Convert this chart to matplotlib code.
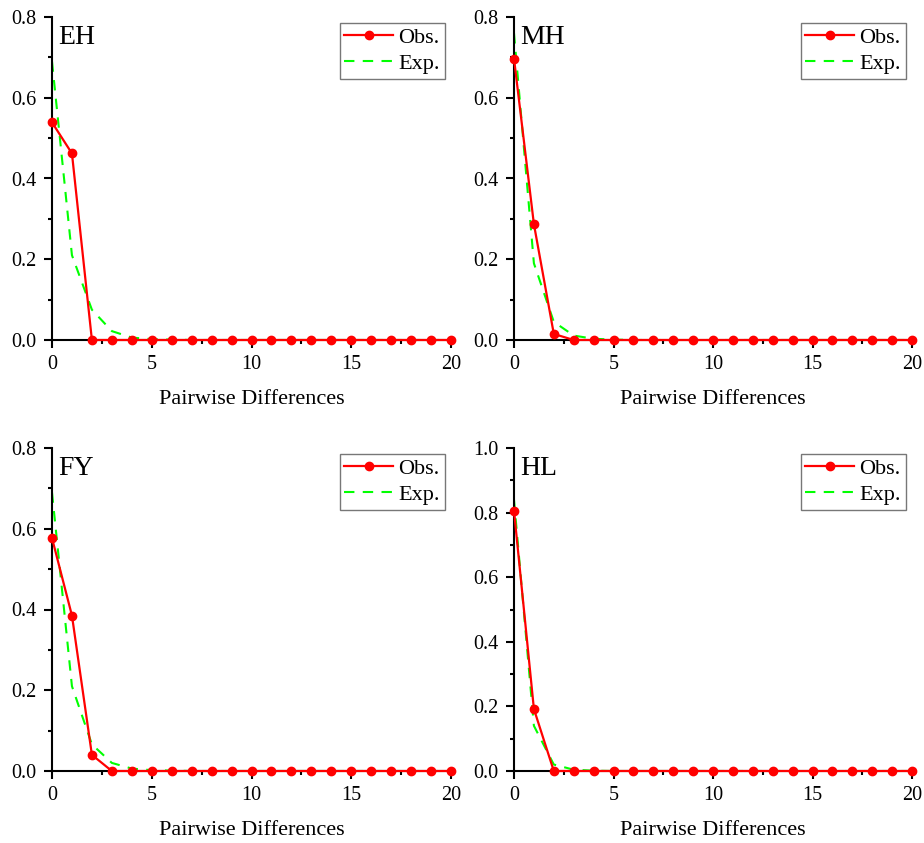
import matplotlib
matplotlib.use("Agg")
import matplotlib.pyplot as plt
from matplotlib.ticker import MultipleLocator

plt.rcParams['font.family'] = ['Liberation Serif', 'DejaVu Serif']

x = list(range(0, 21))

eh_obs = [0.539, 0.462] + [0.0] * 19
eh_exp = [0.69, 0.21, 0.075, 0.022, 0.006, 0.002, 0.001] + [0.0] * 14

mh_obs = [0.697, 0.287, 0.015] + [0.0] * 18
mh_exp = [0.76, 0.19, 0.045, 0.011, 0.003, 0.001] + [0.0] * 15

fy_obs = [0.577, 0.385, 0.04] + [0.0] * 18
fy_exp = [0.69, 0.21, 0.066, 0.02, 0.006, 0.002, 0.001] + [0.0] * 14

hl_obs = [0.806, 0.192] + [0.0] * 19
hl_exp = [0.84, 0.14, 0.02, 0.004, 0.001] + [0.0] * 16

panels = [
    ("EH", eh_obs, eh_exp, 0.8),
    ("MH", mh_obs, mh_exp, 0.8),
    ("FY", fy_obs, fy_exp, 0.8),
    ("HL", hl_obs, hl_exp, 1.0),
]

fig = plt.figure(figsize=(9.24, 8.43), dpi=100)
W, H = 924, 843
boxes = [
    (52, 451, 17, 340),
    (514, 912, 17, 340),
    (52, 451, 448, 771),
    (514, 912, 448, 771),
]

for (name, obs, exp, ymax), (l, r, t, b) in zip(panels, boxes):
    ax = fig.add_axes([l / W, 1 - b / H, (r - l) / W, (b - t) / H])
    ax.plot(x, exp, color='#00FF00', linestyle=(0, (5, 4)), linewidth=1.5,
            label='Exp.', zorder=2)
    ax.plot(x, obs, color='red', marker='o', markersize=6, linewidth=1.6,
            label='Obs.', clip_on=False, zorder=3)
    ax.set_xlim(0, 20)
    ax.set_ylim(0, ymax)
    ax.xaxis.set_major_locator(MultipleLocator(5))
    ax.xaxis.set_minor_locator(MultipleLocator(2.5))
    ax.yaxis.set_major_locator(MultipleLocator(0.2))
    ax.yaxis.set_minor_locator(MultipleLocator(0.1))
    ax.yaxis.set_major_formatter(matplotlib.ticker.FormatStrFormatter('%.1f'))
    for s in ['top', 'right']:
        ax.spines[s].set_visible(False)
    for s in ['left', 'bottom']:
        ax.spines[s].set_linewidth(1.5)
    ax.tick_params(which='major', direction='out', length=6, width=1.5,
                   labelsize=14.5, pad=5)
    ax.tick_params(which='minor', direction='out', length=3, width=1.5)
    ax.set_xlabel('Pairwise Differences', fontsize=16, labelpad=11)
    ax.text(0.015, 0.975, name, transform=ax.transAxes, fontsize=20,
            va='top', ha='left')
    handles, labels = ax.get_legend_handles_labels()
    leg = ax.legend(handles[::-1], labels[::-1], loc='upper right',
                    bbox_to_anchor=(0.995, 0.995), fontsize=16, fancybox=False,
                    framealpha=1, edgecolor='#777777', handlelength=2.2,
                    borderpad=0.2, labelspacing=0.25, handletextpad=0.25,
                    borderaxespad=0.2)
    leg.get_frame().set_linewidth(1.0)

fig.savefig('out.png', dpi=100)
